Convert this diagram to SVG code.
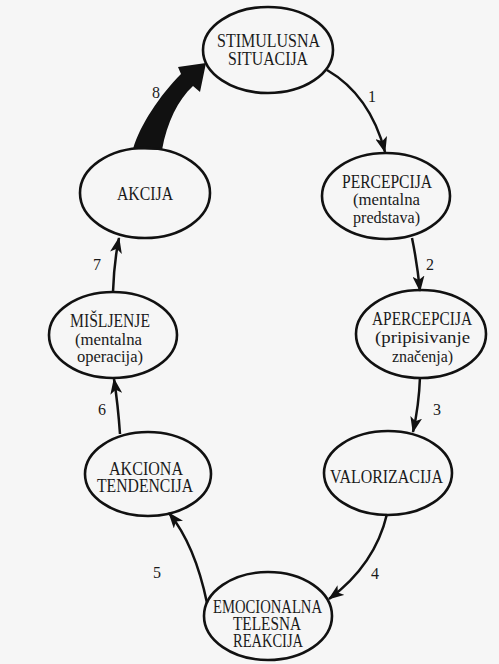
<svg xmlns="http://www.w3.org/2000/svg" width="499" height="664" viewBox="0 0 499 664">
<defs>
<style>
.node ellipse{fill:none;stroke:#111;stroke-width:2.6}
.cap{font-family:"Liberation Serif","Times New Roman",serif;font-size:18.5px;fill:#1a1a1a;text-anchor:middle}
.low{font-family:"Liberation Serif","Times New Roman",serif;font-size:16px;fill:#1a1a1a;text-anchor:middle}
.num{font-family:"Liberation Serif","Times New Roman",serif;font-size:16px;fill:#1a1a1a;text-anchor:middle}
.edge{fill:none;stroke:#111;stroke-width:2.5}
</style>
<marker id="ah" viewBox="0 0 16 12" refX="15" refY="6" markerWidth="16" markerHeight="12" markerUnits="userSpaceOnUse" orient="auto">
<path d="M0,0 L16,6 L0,12 L4,6 z" fill="#111"/>
</marker>
</defs>
<rect width="499" height="664" fill="#f6f6f6"/>

<g id="connectors">
<path class="edge" d="M327,70 Q370,95 385,152" marker-end="url(#ah)"/>
<path class="edge" d="M412,238 Q417,262 420,291" marker-end="url(#ah)"/>
<path class="edge" d="M420,377 Q419,405 413,432" marker-end="url(#ah)"/>
<path class="edge" d="M387,514 Q375,565 329,599" marker-end="url(#ah)"/>
<path class="edge" d="M207,603 Q195,545 169,513" marker-end="url(#ah)"/>
<path class="edge" d="M120,434 Q118,405 114,379" marker-end="url(#ah)"/>
<path class="edge" d="M113,292 Q114,262 119,238" marker-end="url(#ah)"/>
<path d="M133,149 C140,125 160,95 181,74 L178,67 L206,63 L200,92 L193,86 C178,100 167,122 162,150 Z" fill="#111"/>
<text class="num" x="372" y="102">1</text>
<text class="num" x="430" y="270">2</text>
<text class="num" x="437" y="415">3</text>
<text class="num" x="375" y="579">4</text>
<text class="num" x="157" y="578">5</text>
<text class="num" x="102" y="415">6</text>
<text class="num" x="97" y="270">7</text>
<text class="num" x="156" y="98">8</text>
</g>

<g id="stimulusna" class="node">
<ellipse cx="268" cy="50" rx="65" ry="43"/>
<text class="cap" x="268.5" y="47" textLength="103" lengthAdjust="spacingAndGlyphs">STIMULUSNA</text>
<text class="cap" x="268" y="65" textLength="80" lengthAdjust="spacingAndGlyphs">SITUACIJA</text>
</g>

<g id="percepcija" class="node">
<ellipse cx="386" cy="196" rx="64" ry="43"/>
<text class="cap" x="387" y="188" textLength="90" lengthAdjust="spacingAndGlyphs">PERCEPCIJA</text>
<text class="low" x="386.5" y="205" textLength="67" lengthAdjust="spacingAndGlyphs">(mentalna</text>
<text class="low" x="386.5" y="223" textLength="67" lengthAdjust="spacingAndGlyphs">predstava)</text>
</g>

<g id="apercepcija" class="node">
<ellipse cx="421" cy="334" rx="65" ry="44"/>
<text class="cap" x="422" y="325" textLength="100" lengthAdjust="spacingAndGlyphs">APERCEPCIJA</text>
<text class="low" x="422.5" y="343" textLength="95" lengthAdjust="spacingAndGlyphs">(pripisivanje</text>
<text class="low" x="422.5" y="362" textLength="61" lengthAdjust="spacingAndGlyphs">značenja)</text>
</g>

<g id="valorizacija" class="node">
<ellipse cx="388" cy="473" rx="64" ry="42"/>
<text class="cap" x="386.5" y="483" textLength="113" lengthAdjust="spacingAndGlyphs">VALORIZACIJA</text>
</g>

<g id="emocionalna" class="node">
<ellipse cx="268" cy="616" rx="64" ry="44"/>
<text class="cap" x="267.5" y="613" textLength="109" lengthAdjust="spacingAndGlyphs">EMOCIONALNA</text>
<text class="cap" x="267" y="630" textLength="68" lengthAdjust="spacingAndGlyphs">TELESNA</text>
<text class="cap" x="268" y="647" textLength="70" lengthAdjust="spacingAndGlyphs">REAKCIJA</text>
</g>

<g id="akciona" class="node">
<ellipse cx="148" cy="474" rx="63" ry="42"/>
<text class="cap" x="146" y="475" textLength="74" lengthAdjust="spacingAndGlyphs">AKCIONA</text>
<text class="cap" x="145" y="492" textLength="96" lengthAdjust="spacingAndGlyphs">TENDENCIJA</text>
</g>

<g id="misljenje" class="node">
<ellipse cx="113" cy="335" rx="64" ry="43"/>
<text class="cap" x="110" y="327" textLength="80" lengthAdjust="spacingAndGlyphs">MIŠLJENJE</text>
<text class="low" x="108.5" y="345" textLength="67" lengthAdjust="spacingAndGlyphs">(mentalna</text>
<text class="low" x="110" y="362" textLength="66" lengthAdjust="spacingAndGlyphs">operacija)</text>
</g>

<g id="akcija" class="node">
<ellipse cx="145" cy="193" rx="65" ry="45"/>
<text class="cap" x="145" y="200" textLength="56" lengthAdjust="spacingAndGlyphs">AKCIJA</text>
</g>
</svg>
